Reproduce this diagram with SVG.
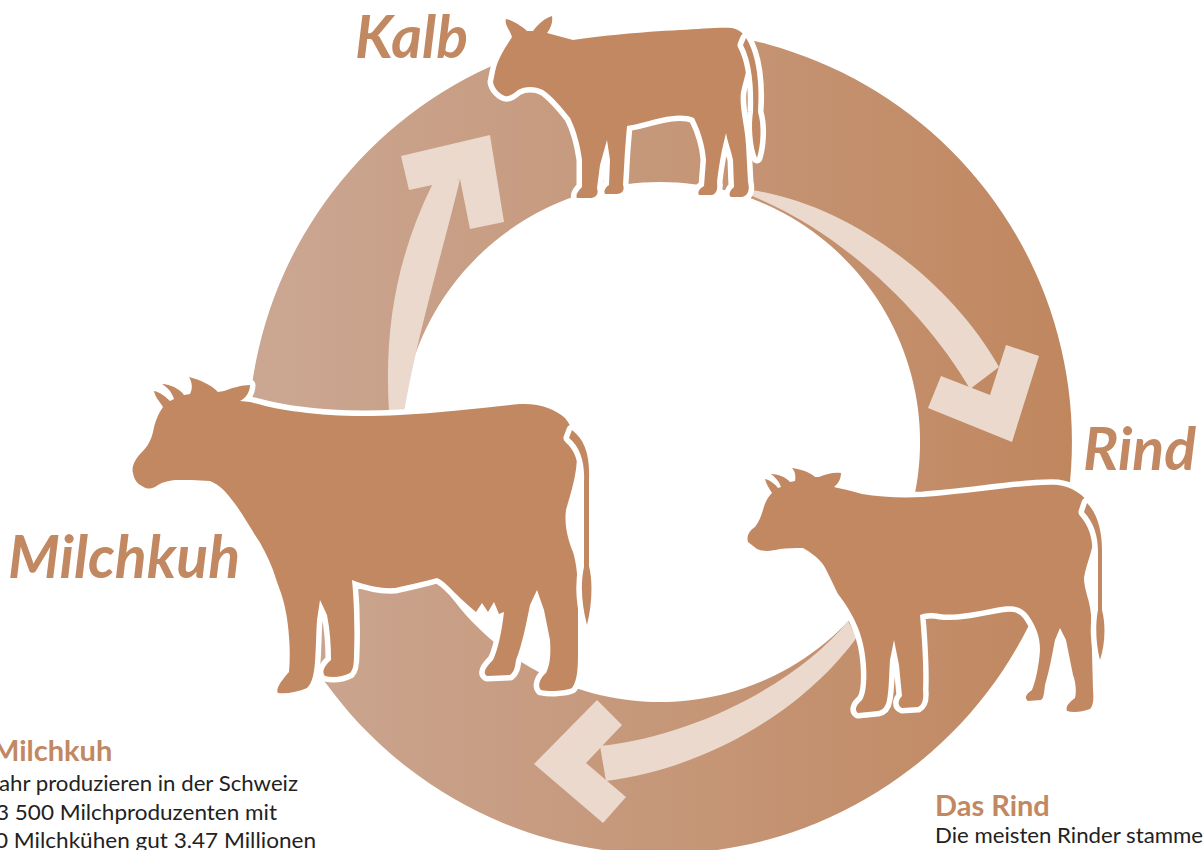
<svg xmlns="http://www.w3.org/2000/svg" width="1204" height="850" viewBox="0 0 1204 850">
<defs>
<linearGradient id="ringGrad" gradientUnits="userSpaceOnUse" x1="248" y1="0" x2="1072" y2="0">
<stop offset="0" stop-color="#cba793"/>
<stop offset="1" stop-color="#c0875f"/>
</linearGradient>
<style>
.cow{fill:#c18862;stroke:#ffffff;stroke-width:11;stroke-linejoin:round;paint-order:stroke}
.arrow{fill:#ead9cc}
.big{font-family:Lato,"Open Sans",sans-serif;font-weight:700;font-style:italic;font-size:59px;fill:#c18862}
.head{font-family:Lato,"Open Sans",sans-serif;font-weight:700;font-size:29px;fill:#c18862}
.body{font-family:Lato,"Open Sans",sans-serif;font-weight:400;font-size:21px;fill:#222222}
</style>
</defs>
<rect width="1204" height="850" fill="#ffffff"/>
<g id="ring">
<path fill="url(#ringGrad)" fill-rule="evenodd" d="M660,30 A412,412 0 1 1 659.9,30 Z M660,182 A260,260 0 1 0 660.1,182 Z"/>
</g>
<g id="connectors">
<g id="arrow-milchkuh-kalb">
<path class="arrow" d="M389,412 C384,330 396,258 433,183 L460,179 C448,232 418,330 404,412 Z"/>
<polygon class="arrow" points="401,156 490,135 504,222 470,229 460,179 409,190"/>
</g>
<g id="arrow-kalb-rind">
<path class="arrow" d="M752,190 C850,205 950,280 999,367 L970,389 C930,320 850,236 752,196 Z"/>
<polygon class="arrow" points="1006,345 1039,356 1012,442 928,408 941,376 990,395"/>
</g>
<g id="arrow-rind-milchkuh">
<path class="arrow" d="M848,621 C800,680 700,735 600,746 L606,781 C720,766 812,700 857,637 Z"/>
<polygon class="arrow" points="534,764 597,700 622,725 586,763 626,797 603,823"/>
</g>
</g>
<g id="node-kalb">
<path class="cow" d="M495,72 C497,62 501,55 505,48 L512,37 C510,30 504,24 506,19 C512,20 522,26 527,31 L533,31 C538,24 545,18 552,16 C553,22 551,28 547,33 L573,40 C600,36 640,32 680,30 C700,29 720,27 732,28 C742,30 748,38 750,48 C750,62 744,78 741,92 C739,108 745,125 746,145 L748,182 C750,190 748,196 742,197 L731,197 C728,195 730,190 734,187 L733,160 C731,150 727,140 726,133 L722,150 C720,160 718,172 717,182 C718,190 716,194 712,195 L699,195 C697,192 700,188 704,186 L706,160 C705,145 700,130 694,118 C680,112 660,118 645,122 C638,124 632,125 627,126 L625,150 L623,185 C625,190 622,194 617,194 L605,194 C603,191 606,187 609,185 L610,160 L607,140 L600,165 L597,188 C599,194 596,198 590,198 L577,198 C575,195 579,190 582,187 L582,160 C580,145 576,130 570,118 C562,108 552,96 543,90 C535,86 525,86 518,90 C513,94 509,97 505,96 C499,94 494,88 493,82 Z"/>
<path class="cow" d="M746,38 C757,55 760,85 758,112 C762,125 761,145 757,158 C752,145 751,125 753,112 C754,88 752,62 743,45 Z"/>
<text class="big" x="355" y="58">Kalb</text>
</g>
<g id="node-milchkuh">
<path class="cow" d="M133,473 C131,466 136,458 142,452 C148,446 151,440 153,432 C155,422 158,414 163,407 C160,402 155,397 154,391 C160,392 166,397 170,401 L174,399 C172,392 167,387 162,384 C170,384 180,389 184,395 L190,394 C193,388 192,382 189,377 C198,379 212,385 218,392 L224,391 C232,388 242,385 250,385 C250,392 246,398 240,401 L250,402 C265,406 280,410 300,412 C330,416 360,417 400,415 C440,413 480,408 520,404 C540,403 555,409 565,418 C573,428 577,440 577,455 C577,475 571,492 566,510 C564,525 568,540 573,552 C577,565 578,580 578,600 L578,650 C578,665 578,680 572,688 C565,691 550,692 541,690 C537,686 540,678 546,673 C550,665 551,655 550,640 L544,610 L537,590 L530,605 C526,625 522,645 516,660 C515,668 514,672 510,675 L487,676 C482,673 486,667 493,660 C498,650 502,630 504,612 L499,614 L494,602 L488,612 L482,603 L476,612 C470,607 462,600 455,593 C449,587 444,581 437,578 C425,581 410,585 395,588 C380,589 365,585 352,580 C354,600 355,630 354,655 C354,665 353,670 350,673 C342,677 333,678 325,676 C321,672 325,665 331,660 C331,645 330,630 327,615 L320,600 L317,620 C316,635 316,650 315,662 C314,675 312,683 307,688 C298,692 287,694 278,693 C275,689 282,680 289,672 C290,660 290,648 289,637 C288,620 285,605 281,593 C277,582 275,576 273,570 C268,557 262,545 255,535 C247,522 240,510 232,500 C226,492 220,485 210,481 C198,480 185,480 175,480 C168,481 163,482 158,485 C153,489 148,490 142,486 C137,484 134,479 133,473 Z"/>
<path class="cow" d="M572,430 C585,440 590,455 589,480 L589,566 C593,582 592,605 587,625 C582,606 580,585 584,567 L584,482 C585,462 580,447 569,438 Z"/>
<text class="big" x="8" y="578">Milchkuh</text>
</g>
<g id="node-rind">
<path class="cow" d="M748,542 C746,536 750,530 755,527 C759,522 761,516 763,510 C765,502 768,497 772,493 C769,488 766,484 765,479 C770,480 775,484 778,488 L781,487 C779,481 775,477 771,474 C778,474 786,477 790,482 L795,481 C796,476 795,471 792,468 C800,469 810,472 815,477 L819,477 C826,474 834,472 841,473 C841,479 838,484 834,487 L838,488 C848,490 855,492 862,494 C880,497 900,498 923,497 C950,495 980,491 1007,488 C1025,486 1045,484 1058,485 C1072,487 1085,495 1090,506 C1094,515 1095,528 1093,543 C1091,555 1086,565 1084,578 C1084,590 1090,600 1091,615 L1093,690 C1094,700 1093,706 1090,709 C1082,712 1073,713 1067,711 C1065,706 1070,702 1075,698 C1077,690 1075,680 1073,675 L1066,640 L1060,628 L1055,640 C1052,655 1050,668 1045,685 C1044,693 1044,698 1041,700 L1028,701 C1024,698 1026,694 1032,690 C1036,680 1039,665 1040,650 C1040,635 1035,625 1028,615 C1020,605 1010,605 995,608 C975,612 955,616 940,614 C930,612 925,613 920,615 C922,640 924,665 923,690 C924,700 922,705 918,707 L902,708 C897,706 898,700 902,696 L899,665 L894,640 L890,660 C889,675 889,690 887,700 C886,706 883,710 878,711 L858,713 C854,710 856,705 862,700 C866,694 867,680 866,665 C865,650 862,638 858,628 C853,615 845,603 838,594 C832,582 827,570 822,563 C816,556 810,552 803,548 C795,548 787,548 780,549 C772,551 764,552 757,549 Z"/>
<path class="cow" d="M1087,503 C1097,513 1102,530 1102,550 L1102,610 C1106,625 1105,645 1100,660 C1096,645 1095,625 1098,610 L1098,552 C1098,536 1094,523 1084,512 Z"/>
<text class="big" x="1083" y="470">Rind</text>
</g>
<g id="text-milchkuh">
<text class="head" x="-8" y="761">Milchkuh</text>
<text class="body" x="-1" y="791" textLength="299" lengthAdjust="spacingAndGlyphs">ahr produzieren in der Schweiz</text>
<text class="body" x="-4" y="820" textLength="281" lengthAdjust="spacingAndGlyphs">3 500 Milchproduzenten mit</text>
<text class="body" x="-5" y="848" textLength="321" lengthAdjust="spacingAndGlyphs">0 Milchkühen gut 3.47 Millionen</text>
</g>
<g id="text-rind">
<text class="head" x="935" y="816">Das Rind</text>
<text class="body" x="935" y="843" textLength="268" lengthAdjust="spacingAndGlyphs">Die meisten Rinder stamme</text>
</g>
</svg>
